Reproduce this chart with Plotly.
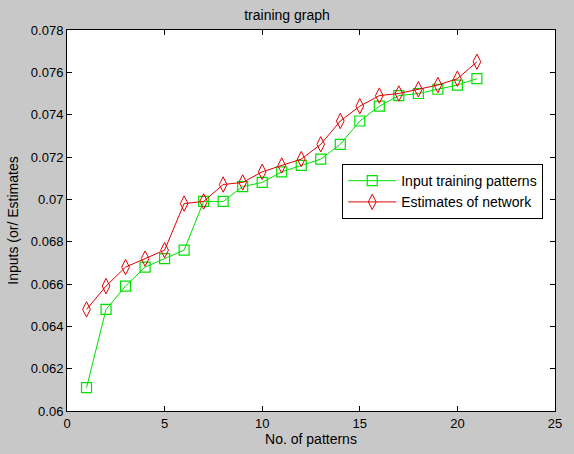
import plotly.graph_objects as go

patterns = list(range(1, 22))
inputs = [0.0611, 0.0648, 0.0659, 0.0668, 0.0672, 0.0676, 0.0699, 0.0699, 0.0706, 0.0708,
          0.0713, 0.0716, 0.0719, 0.0726, 0.0737, 0.0744, 0.0749, 0.0750, 0.0752, 0.0754, 0.0757]
estimates = [0.0648, 0.0659, 0.0668, 0.0672, 0.0676, 0.0698, 0.0699, 0.0707, 0.0708, 0.0713,
             0.0716, 0.0719, 0.0726, 0.0737, 0.0744, 0.0749, 0.0750, 0.0752, 0.0754, 0.0757, 0.0765]
xticks = [0, 5, 10, 15, 20, 25]
yticks = [0.06, 0.062, 0.064, 0.066, 0.068, 0.07, 0.072, 0.074, 0.076, 0.078]
ytext = ["0.06", "0.062", "0.064", "0.066", "0.068", "0.07", "0.072", "0.074", "0.076", "0.078"]

fig = go.Figure()
fig.add_trace(go.Scatter(x=patterns, y=inputs, mode="lines+markers", name="Input training patterns",
                         line=dict(color="#00e000", width=1),
                         marker=dict(symbol="square-open", size=10, color="#00e000", line=dict(width=1.2))))
fig.add_trace(go.Scatter(x=patterns, y=estimates, mode="lines+markers", name="Estimates of network",
                         line=dict(color="#e00000", width=1),
                         marker=dict(symbol="diamond-tall-open", size=11, color="#e00000", line=dict(width=1))))

axis_common = dict(showline=True, linecolor="black", linewidth=1, mirror="allticks",
                   ticks="inside", ticklen=5, tickcolor="black", showgrid=False, zeroline=False,
                   tickfont=dict(size=13, color="black"))
fig.update_xaxes(range=[0, 25], tickvals=xticks, title=dict(text="No. of patterns", standoff=2,
                 font=dict(size=14, color="black")), **axis_common)
fig.update_yaxes(range=[0.06, 0.078], tickvals=yticks, ticktext=ytext,
                 title=dict(text="Inputs (or/ Estimates", standoff=8, font=dict(size=14, color="black")),
                 **axis_common)

fig.update_layout(
    width=574, height=454,
    paper_bgcolor="#c8c8c8", plot_bgcolor="white",
    margin=dict(l=67, r=19, t=30, b=40),
    font=dict(family="Liberation Sans, Arial, sans-serif", size=12, color="black"),
    title=dict(text="training graph", x=0.5, xanchor="center", y=0.966, yanchor="middle",
               font=dict(size=14, color="black")),
    legend=dict(x=0.564, y=0.648, xanchor="left", yanchor="top", bgcolor="white",
                bordercolor="black", borderwidth=1, font=dict(size=14, color="black"),
                itemwidth=48, tracegroupgap=0),
    showlegend=True,
)

fig.write_html("out.html")
